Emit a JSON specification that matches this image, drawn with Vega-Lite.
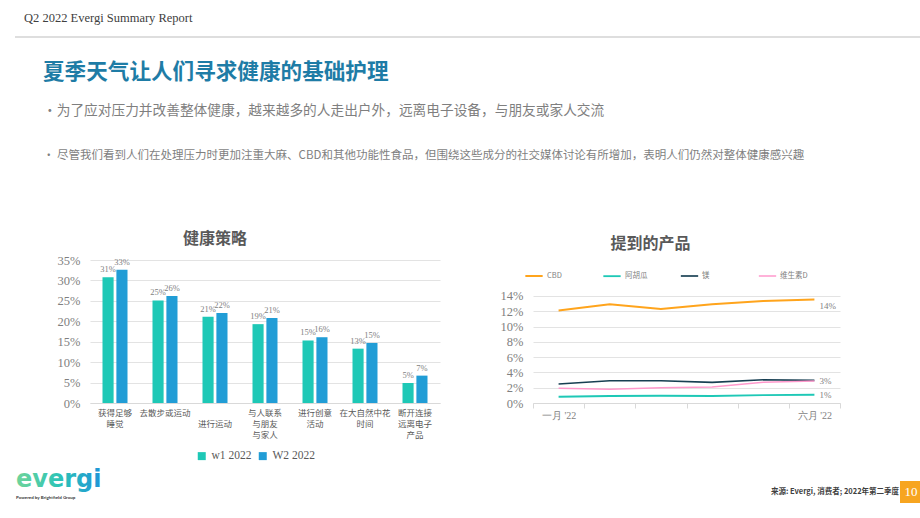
{
  "$schema": "https://vega.github.io/schema/vega-lite/v6.json",
  "background": "white",
  "padding": {"left": 15, "top": 11, "right": 0, "bottom": 0},
  "config": {
    "view": {"stroke": null},
    "font": "Noto Sans CJK SC",
    "axis": {"gridColor": "#e3e3e3", "domainColor": "#d9d9d9", "tickColor": "#d9d9d9"}
  },
  "spacing": 24,
  "vconcat": [
    {
      "title": {"text": "Q2 2022 Evergi Summary Report", "anchor": "start", "dx": 9, "font": "Liberation Serif", "fontSize": 12.5, "fontWeight": "normal", "color": "#404040", "offset": 12},
      "width": 905,
      "height": 2,
      "view": {"fill": "#dedede", "stroke": null},
      "data": {"values": []},
      "mark": "text",
      "encoding": {}
    },
    {
      "spacing": 6,
      "vconcat": [
        {
          "title": {
            "text": "夏季天气让人们寻求健康的基础护理",
            "subtitle": "·为了应对压力并改善整体健康，越来越多的人走出户外，远离电子设备，与朋友或家人交流",
            "anchor": "start", "dx": 28,
            "font": "Noto Sans CJK SC", "fontSize": 21.6, "fontWeight": "bold", "color": "#1e7ca6",
            "subtitleFont": "Noto Sans CJK SC", "subtitleFontSize": 13.7, "subtitleColor": "#7f7f7f", "subtitlePadding": 20,
            "offset": 32
          },
          "vconcat": [
            {
              "title": {"text": "· 尽管我们看到人们在处理压力时更加注重大麻、CBD和其他功能性食品，但围绕这些成分的社交媒体讨论有所增加，表明人们仍然对整体健康感兴趣", "anchor": "start", "dx": 28, "font": "Noto Sans CJK SC", "fontSize": 11.5, "fontWeight": "normal", "color": "#7f7f7f", "offset": 70},
              "spacing": 0,
              "hconcat": [
                {"width": 42, "height": 10, "data": {"values": []}, "mark": "point", "encoding": {}},
                {
                  "spacing": 60,
                  "resolve": {"scale": {"color": "independent", "strokeWidth": "independent"}, "legend": {"color": "independent", "strokeWidth": "independent"}},
                  "hconcat": [
                    {
                      "width": 350,
                      "height": 143,
                      "title": {"text": "健康策略", "font": "Noto Sans CJK SC", "fontSize": 16, "fontWeight": "bold", "color": "#595959", "anchor": "middle", "dx": -50, "offset": 7},
                      "data": {"values": [
                        {"cat": "获得足够|睡觉", "series": "w1 2022", "value": 0.308},
                        {"cat": "获得足够|睡觉", "series": "W2 2022", "value": 0.326},
                        {"cat": "去散步或运动", "series": "w1 2022", "value": 0.251},
                        {"cat": "去散步或运动", "series": "W2 2022", "value": 0.262},
                        {"cat": "|进行运动", "series": "w1 2022", "value": 0.211},
                        {"cat": "|进行运动", "series": "W2 2022", "value": 0.220},
                        {"cat": "与人联系|与朋友|与家人", "series": "w1 2022", "value": 0.193},
                        {"cat": "与人联系|与朋友|与家人", "series": "W2 2022", "value": 0.208},
                        {"cat": "进行创意|活动", "series": "w1 2022", "value": 0.153},
                        {"cat": "进行创意|活动", "series": "W2 2022", "value": 0.161},
                        {"cat": "在大自然中花|时间", "series": "w1 2022", "value": 0.133},
                        {"cat": "在大自然中花|时间", "series": "W2 2022", "value": 0.147},
                        {"cat": "断开连接|远离电子|产品", "series": "w1 2022", "value": 0.049},
                        {"cat": "断开连接|远离电子|产品", "series": "W2 2022", "value": 0.067}
                      ]},
                      "encoding": {
                        "x": {
                          "field": "cat", "type": "nominal", "sort": null, "title": null,
                          "scale": {"paddingInner": 0.5, "paddingOuter": 0.25},
                          "axis": {"labelAngle": 0, "labelExpr": "split(datum.label, '|')", "labelFont": "Noto Sans CJK SC", "labelFontSize": 8.5, "labelColor": "#595959", "labelLineHeight": 11, "ticks": false, "domainColor": "#d9d9d9", "labelPadding": 5, "labelLimit": 0}
                        },
                        "y": {
                          "field": "value", "type": "quantitative", "title": null,
                          "scale": {"domain": [0, 0.35], "nice": false},
                          "axis": {"values": [0, 0.05, 0.1, 0.15, 0.2, 0.25, 0.3, 0.35], "format": ".0%", "domain": false, "ticks": false, "labelFont": "Liberation Serif", "labelFontSize": 12.5, "labelColor": "#7f7f7f", "labelPadding": 10}
                        }
                      },
                      "layer": [
                        {
                          "mark": {"type": "bar"},
                          "encoding": {
                            "xOffset": {"field": "series", "type": "nominal", "sort": null, "scale": {"paddingInner": 0.2, "paddingOuter": 0}},
                            "color": {"field": "series", "type": "nominal", "sort": null, "scale": {"domain": ["w1 2022", "W2 2022"], "range": ["#1ec8b6", "#219dd6"]},
                              "legend": {"title": null, "orient": "none", "legendX": 106, "legendY": 190, "direction": "horizontal", "symbolType": "square", "symbolSize": 64, "labelFont": "Liberation Serif", "labelFontSize": 11.5, "labelColor": "#595959", "columnPadding": 5}}
                          }
                        },
                        {
                          "mark": {"type": "text", "baseline": "bottom", "dy": -3, "font": "Liberation Serif", "fontSize": 8.5, "color": "#7f7f7f"},
                          "encoding": {
                            "xOffset": {"field": "series", "type": "nominal", "sort": null, "scale": {"paddingInner": 0.2, "paddingOuter": 0}},
                            "text": {"field": "value", "type": "quantitative", "format": ".0%"}
                          }
                        }
                      ]
                    },
                    {
                      "width": 307,
                      "height": 143,
                      "title": {"text": "提到的产品", "font": "Noto Sans CJK SC", "fontSize": 16, "fontWeight": "bold", "color": "#595959", "anchor": "middle", "dx": -36, "offset": 8},
                      "data": {"values": [
                        {"month": "一月 '22", "product": "CBD", "value": 0.121},
                        {"month": "二月 '22", "product": "CBD", "value": 0.129},
                        {"month": "三月 '22", "product": "CBD", "value": 0.123},
                        {"month": "四月 '22", "product": "CBD", "value": 0.129},
                        {"month": "五月 '22", "product": "CBD", "value": 0.1335},
                        {"month": "六月 '22", "product": "CBD", "value": 0.1353},
                        {"month": "一月 '22", "product": "阿胡瓜", "value": 0.0082},
                        {"month": "二月 '22", "product": "阿胡瓜", "value": 0.0091},
                        {"month": "三月 '22", "product": "阿胡瓜", "value": 0.0095},
                        {"month": "四月 '22", "product": "阿胡瓜", "value": 0.0091},
                        {"month": "五月 '22", "product": "阿胡瓜", "value": 0.0104},
                        {"month": "六月 '22", "product": "阿胡瓜", "value": 0.0108},
                        {"month": "一月 '22", "product": "镁", "value": 0.0248},
                        {"month": "二月 '22", "product": "镁", "value": 0.0291},
                        {"month": "三月 '22", "product": "镁", "value": 0.0291},
                        {"month": "四月 '22", "product": "镁", "value": 0.027},
                        {"month": "五月 '22", "product": "镁", "value": 0.0304},
                        {"month": "六月 '22", "product": "镁", "value": 0.0296},
                        {"month": "一月 '22", "product": "维生素D", "value": 0.0192},
                        {"month": "二月 '22", "product": "维生素D", "value": 0.0179},
                        {"month": "三月 '22", "product": "维生素D", "value": 0.02},
                        {"month": "四月 '22", "product": "维生素D", "value": 0.0209},
                        {"month": "五月 '22", "product": "维生素D", "value": 0.027},
                        {"month": "六月 '22", "product": "维生素D", "value": 0.0287}
                      ]},
                      "encoding": {
                        "x": {
                          "field": "month", "type": "ordinal", "sort": null, "title": null, "bandPosition": 0.5,
                          "scale": {"type": "band", "paddingInner": 0, "paddingOuter": 0},
                          "axis": {"labelAngle": 0, "tickBand": "extent", "labelExpr": "test(/^(一|六)月/, datum.label) ? datum.label : ''", "labelFont": "Liberation Serif", "labelFontSize": 10, "labelColor": "#7f7f7f", "tickSize": 5, "labelPadding": 2, "grid": false}
                        },
                        "y": {
                          "field": "value", "type": "quantitative", "title": null,
                          "scale": {"domain": [0, 0.187], "nice": false},
                          "axis": {"values": [0, 0.02, 0.04, 0.06, 0.08, 0.1, 0.12, 0.14], "format": ".0%", "domain": false, "ticks": false, "labelFont": "Liberation Serif", "labelFontSize": 12.5, "labelColor": "#7f7f7f", "labelPadding": 10}
                        }
                      },
                      "layer": [
                        {
                          "mark": {"type": "line"},
                          "encoding": {
                            "color": {"field": "product", "type": "nominal", "sort": null,
                              "scale": {"domain": ["CBD", "阿胡瓜", "镁", "维生素D"], "range": ["#ffa41c", "#1ec8b6", "#173f52", "#ff99cc"]},
                              "legend": {"title": null, "orient": "none", "legendX": -9, "legendY": 6, "direction": "horizontal", "symbolType": "stroke", "symbolSize": 300, "symbolStrokeWidth": 2.5, "labelFont": "Noto Sans CJK SC", "labelFontSize": 7.5, "labelColor": "#7f7f7f", "gridAlign": "all", "columnPadding": 25, "labelOffset": 3}},
                            "strokeWidth": {"field": "product", "type": "nominal", "sort": null, "scale": {"domain": ["CBD", "阿胡瓜", "镁", "维生素D"], "range": [2, 1.5, 3, 3]}, "legend": null}
                          }
                        },
                        {
                          "transform": [{"filter": "datum.month === \"六月 '22\" && datum.product === 'CBD'"}],
                          "mark": {"type": "text", "align": "left", "dx": 5, "dy": 6, "font": "Liberation Serif", "fontSize": 9, "color": "#7f7f7f"},
                          "encoding": {"text": {"field": "value", "type": "quantitative", "format": ".0%"}}
                        },
                        {
                          "transform": [{"filter": "datum.month === \"六月 '22\" && (datum.product === '维生素D' || datum.product === '阿胡瓜')"}],
                          "mark": {"type": "text", "align": "left", "dx": 5, "dy": 0, "font": "Liberation Serif", "fontSize": 9, "color": "#7f7f7f"},
                          "encoding": {"text": {"field": "value", "type": "quantitative", "format": ".0%"}}
                        }
                      ]
                    }
                  ]
                }
              ]
            }
          ]
        },
        {
          "spacing": 665,
          "hconcat": [
            {
              "width": 90,
              "height": 22,
              "data": {"values": [{"brand": "evergi", "tagline": "Powered by Brightfield Group"}]},
              "layer": [
                {
                  "mark": {"type": "text", "align": "left", "baseline": "alphabetic", "dx": -44, "dy": -5, "font": "DejaVu Sans", "fontSize": 24, "fontWeight": "bold",
                    "fill": {"gradient": "linear", "x1": 0, "y1": 0, "x2": 1, "y2": 0, "stops": [{"offset": 0, "color": "#6fd49a"}, {"offset": 0.5, "color": "#2ec4b6"}, {"offset": 1, "color": "#1e95d8"}]}},
                  "encoding": {"text": {"field": "brand"}}
                },
                {
                  "mark": {"type": "text", "align": "left", "baseline": "middle", "dx": -44, "dy": 6, "font": "Lato", "fontSize": 4.5, "fontWeight": "bold", "color": "#3a3a3a"},
                  "encoding": {"text": {"field": "tagline"}}
                }
              ]
            },
            {
              "spacing": 0,
              "hconcat": [
                {
                  "width": 112,
                  "height": 22,
                  "data": {"values": [{"source": "来源: Evergi, 消费者; 2022年第二季度"}]},
                  "mark": {"type": "text", "font": "Noto Sans CJK SC", "fontSize": 7.5, "fontWeight": "bold", "color": "#404040"},
                  "encoding": {"text": {"field": "source"}}
                },
                {
                  "width": 22,
                  "height": 22,
                  "view": {"fill": "#f7a520", "stroke": null},
                  "data": {"values": [{"page": "10"}]},
                  "mark": {"type": "text", "font": "Liberation Serif", "fontSize": 13, "color": "white"},
                  "encoding": {"text": {"field": "page"}}
                }
              ]
            }
          ]
        }
      ]
    }
  ]
}
